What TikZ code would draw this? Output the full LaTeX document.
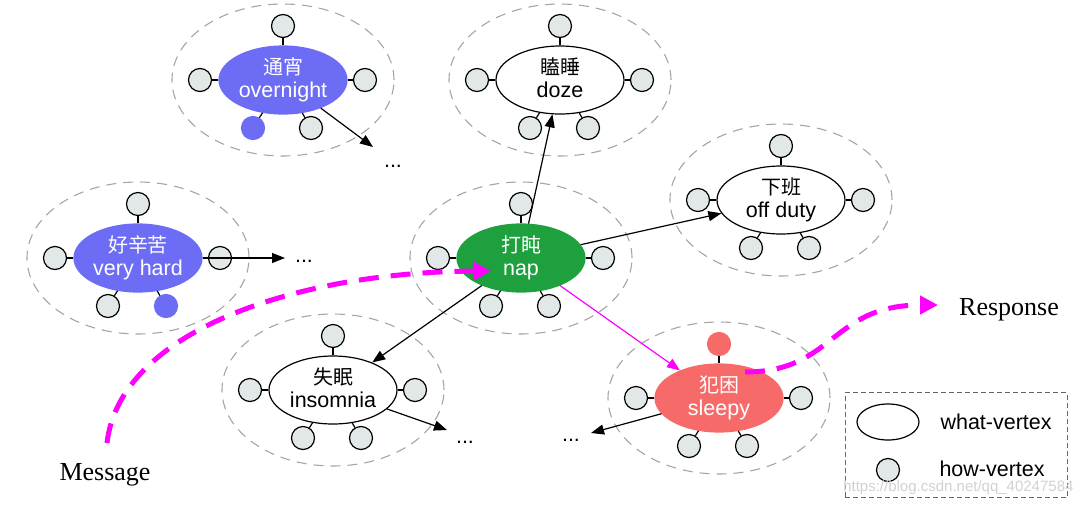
\documentclass[tikz,border=0pt]{standalone}
\usepackage{fontspec}
\setmainfont{Liberation Sans}
\newfontfamily\cjk[Scale=0.93]{Noto Sans CJK SC}
\newfontfamily\timesfont{Liberation Serif}
\usepackage{tikz}
\usetikzlibrary{positioning, arrows.meta, calc, shapes.geometric}
\usepackage{xcolor}
\definecolor{nightblue}{RGB}{108,108,245}
\definecolor{napgreen}{RGB}{30,160,62}
\definecolor{sleepred}{RGB}{247,106,106}
\definecolor{howgray}{RGB}{226,232,232}
\definecolor{ringgray}{RGB}{165,165,165}
\definecolor{pathmagenta}{RGB}{255,0,255}
\tikzset{
    whatvertex/.style={
        ellipse,
        draw=black,
        fill=white,
        line width=1.2pt,
        minimum width=128pt,
        minimum height=68pt,
        inner sep=0pt,
        align=center,
        font=\fontsize{21.5}{23}\selectfont
    },
    bluewhat/.style={whatvertex, draw=nightblue, fill=nightblue, text=white},
    greenwhat/.style={whatvertex, draw=napgreen, fill=napgreen, text=white},
    redwhat/.style={whatvertex, draw=sleepred, fill=sleepred, text=white},
    plainwhat/.style={whatvertex},
    howvertex/.style={
        circle,
        draw=black,
        fill=howgray,
        line width=1.2pt,
        minimum size=23pt,
        inner sep=0pt
    },
    spoke/.style={
        line width=1.2pt
    },
    ringline/.style={
        ellipse,
        draw=ringgray,
        line width=1.1pt,
        dash pattern=on 10pt off 7pt,
        minimum width=222pt,
        minimum height=152pt
    },
    linkarrow/.style={
        line width=1.2pt,
        -{Triangle[length=13pt,width=10pt]}
    },
    pinkarrow/.style={
        linkarrow,
        pathmagenta
    },
    flowpath/.style={
        pathmagenta,
        line width=5pt,
        dash pattern=on 20pt off 12pt,
        -{Triangle[length=18pt,width=18pt]}
    },
    dotslabel/.style={
        font=\fontsize{21.5}{23}\selectfont
    },
    endlabel/.style={
        anchor=base,
        font=\timesfont\fontsize{26}{30}\selectfont
    }
}

\begin{document}
\begin{tikzpicture}[x=1pt, y=-1pt]
      \useasboundingbox (0,0) rectangle (1080,507);

      \foreach \n/\cx/\cy/\kind/\spot/\spotc/\zh/\en in {
          night/283/80/bluewhat/4/nightblue/通宵/overnight,
          hard/138/258/bluewhat/5/nightblue/好辛苦/very hard,
          nap/521/258/greenwhat/0/black/打盹/nap,
          doze/560/80/plainwhat/0/black/瞌睡/doze,
          offduty/781/200/plainwhat/0/black/下班/off duty,
          insom/333/390/plainwhat/0/black/失眠/insomnia,
          sleepy/719/398/redwhat/1/sleepred/犯困/sleepy}
        {
          \node[ringline] (\n-ring) at (\cx,\cy) {};
          \node[\kind] (\n) at (\cx,\cy) {{\cjk\zh}\\\en\vphantom{g}};
          \foreach \k/\dx/\dy in {1/0/-54, 2/-83/0, 3/82/0, 4/-30/48, 5/28/48}
            {
              \ifnum\k=\spot
                \def\howfill{\spotc}\def\howline{\spotc}
              \else
                \def\howfill{howgray}\def\howline{black}
              \fi
              \node[howvertex, fill=\howfill, draw=\howline] (\n-\k) at (\cx+\dx,\cy+\dy) {};
              \draw[spoke] (\n) -- (\n-\k);
            }
        }

      \draw[linkarrow] (nap) -- (doze);
      \draw[linkarrow] (nap) -- (offduty);
      \draw[linkarrow] (nap) -- (insom);
      \draw[pinkarrow] (nap) -- (sleepy);

      \coordinate (nightEnd) at (373,147);
      \coordinate (hardEnd) at (285,258);
      \coordinate (insomEnd) at (447,430);
      \coordinate (sleepyEnd) at (591,433);
      \node[dotslabel] (nightDots) at (393,166) {...};
      \node[dotslabel] (hardDots) at (304,261) {...};
      \node[dotslabel] (insomDots) at (465,442) {...};
      \node[dotslabel] (sleepyDots) at (571,440) {...};
      \draw[linkarrow] (night) -- (nightEnd);
      \draw[linkarrow] (hard.east) -- (hardEnd);
      \draw[linkarrow] (insom) -- (insomEnd);
      \draw[linkarrow] (sleepy) -- (sleepyEnd);

      \coordinate (msgStart) at (107,443);
      \coordinate (msgEnd) at (491,271);
      \coordinate (rspStart) at (745,372);
      \coordinate (rspEnd) at (938,305);
      \draw[flowpath] (msgStart) .. controls (120,330) and (300,272) .. (msgEnd);
      \draw[flowpath] (rspStart) .. controls (835,372) and (830,305) .. (rspEnd);
      \node[endlabel] (msg) at (105,480) {Message};
      \node[endlabel] (rsp) at (1009,315) {Response};

      \node[draw=black!60, line width=1pt, dash pattern=on 5pt off 3pt,
            minimum width=222pt, minimum height=105pt] (legend) at (956,445) {};
      \node[whatvertex, minimum width=62pt, minimum height=36pt] (legWhat) at (888,422) {};
      \node[howvertex] (legHow) at (888,470) {};
      \node[dotslabel, anchor=west] (legWhatText) at (937,422) {what-vertex};
      \node[dotslabel, anchor=west] (legHowText) at (936,469) {how-vertex};
      \node[anchor=east, text=black!18, font=\fontsize{15}{18}\selectfont] (mark) at (1077,488) {https://blog.csdn.net/qq\_40247584};

    \end{tikzpicture}
\end{document}
